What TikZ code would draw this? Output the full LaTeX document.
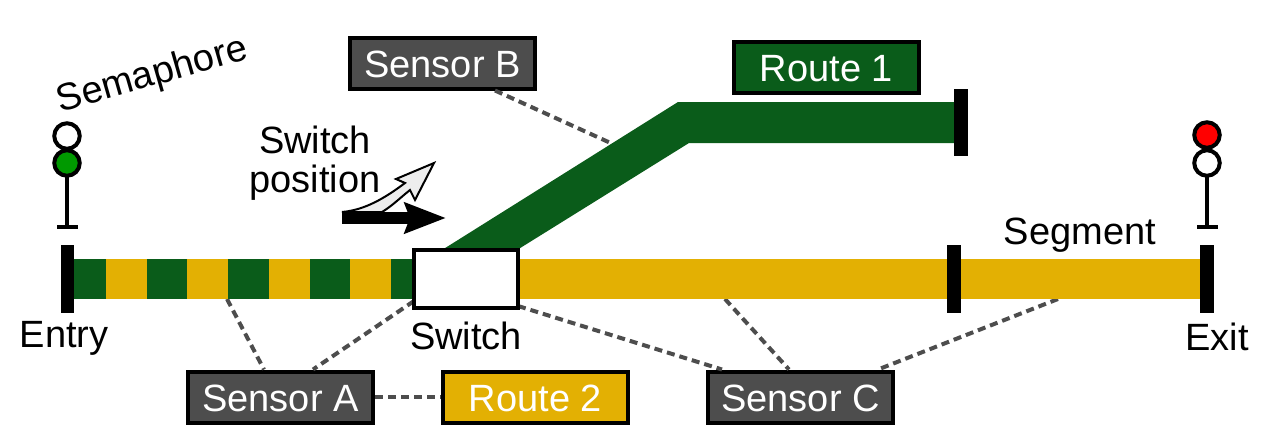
\documentclass[tikz,border=0pt]{standalone}
\usepackage{fontspec}
\setmainfont{Liberation Sans}
\usepackage{xcolor}
\usetikzlibrary{positioning,arrows.meta}
\definecolor{routegreen}{HTML}{0A5C1A}
\definecolor{routeyellow}{HTML}{E3B003}
\definecolor{sensorgrey}{HTML}{4D4D4D}
\definecolor{lampgreen}{HTML}{009900}

\begin{document}
\begin{tikzpicture}[x=1pt, y=-1pt, node distance=66pt, >=Latex, every node/.style={font=\fontsize{38}{39}\selectfont, inner sep=0pt, outer sep=0pt},
 tag/.style={draw, line width=4pt, minimum width=185pt, minimum height=51pt, text=white, text height=28pt, text depth=0pt, outer sep=2pt},
 sensor/.style={tag, fill=sensorgrey},
 bar/.style={fill=black, minimum width=13.5pt, minimum height=68pt},
 link/.style={draw=sensorgrey, line width=4pt, dash pattern=on 8pt off 5pt},
 lamp/.style={circle, draw, line width=4pt, minimum size=25.5pt},
 foot/.style={fill=black, minimum width=21pt, minimum height=4pt}]
\useasboundingbox (0,0) rectangle (1270,445);

% sensors and routes
\node[sensor] (sensorb) at (442.5,63) {Sensor B};
\node[sensor] (sensora) at (280.5,397) {Sensor A};
\node[sensor] (sensorc) at (800.5,397) {Sensor C};
\node[tag, fill=routegreen] (route1) at (826.5,67) {Route 1};
\node[tag, fill=routeyellow, right=of sensora] (route2) {Route 2};

% feedback wires, they go under the track
\coordinate (tapb) at (615,145);
\coordinate (tapa) at (227,299);
\coordinate (tapswa) at (414,301);
\coordinate (tapswc) at (518,306);
\coordinate (tapc) at (725,299);
\coordinate (tapd) at (1058,299);
\draw[link] (sensorb.south -| 495,0) -- (tapb);
\draw[link] (tapa) -- (sensora.north -| 264,0);
\draw[link] (tapswa) -- (sensora.north -| 313,0);
\draw[link] (sensora) -- (route2);
\draw[link] (tapswc) -- (sensorc.north -| 722,0);
\draw[link] (tapc) -- (sensorc.north -| 789,0);
\draw[link] (tapd) -- (sensorc.north -| 878,0);

% track
\fill[routegreen] (442,250) -- (678,102) -- (954,102) -- (954,143) -- (689,143) -- (517,250) -- cycle;
\fill[routeyellow] (74,259) rectangle (1200,299);
\foreach \xa/\xb in {74/106,147/187,228/269,310/350,391/414}
  \fill[routegreen] (\xa,259) rectangle (\xb,299);

\node[bar] (entry) at (67.5,279) {};
\node[bar] (block) at (954,279) {};
\node[bar] (exit) at (1207,279) {};
\node[bar, minimum height=67pt] (stop) at (961,122.5) {};
\node[draw, fill=white, line width=4pt, minimum width=104pt, minimum height=58pt, outer sep=2pt] (switch) at (466,279) {};

% signals
\node[lamp, fill=white] (entrytop) at (67,136) {};
\node[lamp, fill=lampgreen] (entrylow) at (67,163) {};
\node[foot] (entryfoot) at (67,227) {};
\draw[line width=3.5pt] (entrylow) -- (entryfoot);
\node[lamp, fill=red] (exittop) at (1207,135) {};
\node[lamp, fill=white] (exitlow) at (1207,163) {};
\node[foot] (exitfoot) at (1207,227) {};
\draw[line width=3.5pt] (exitlow) -- (exitfoot);

% switch arrows
\coordinate (armstart) at (342,218);
\coordinate (armend) at (446,218);
\draw[fill=black!7, line width=2pt, line join=miter] (342,212) .. controls (365,210) and (385,198) .. (405,183) -- (396,179) -- (434,163) -- (415,200) -- (410,190) .. controls (400,198) and (392,206) .. (382,212) -- cycle;
\draw[line width=12.5pt, -{Stealth[length=41pt, width=30pt, inset=5pt, sep=0pt]}] (armstart) -- (armend);

% labels
\node (entrylabel) at (64,338) {Entry};
\node (exitlabel) at (1217,337) {Exit};
\node (switchlabel) at (466,336) {Switch};
\node (segmentlabel) at (1080,235) {Segment};
\node[rotate=16] (semaphorelabel) at (152.5,76) {Semaphore};
\node[align=center] (positionlabel) at (315,163) {Switch\\position};
\end{tikzpicture}
\end{document}
